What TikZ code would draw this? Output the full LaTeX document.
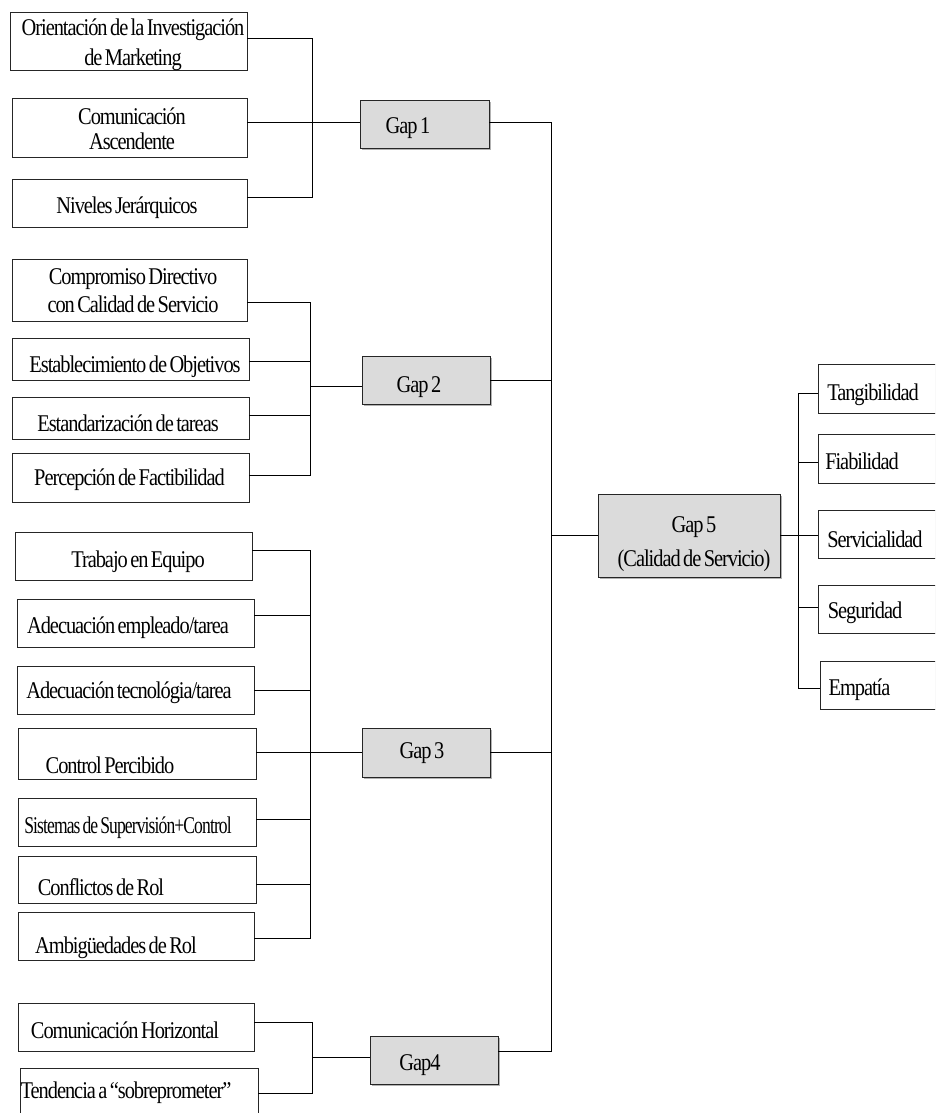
\documentclass[tikz,border=0pt]{standalone}
\usepackage{fontspec}
\setmainfont{Liberation Serif}[FakeStretch=0.85, LetterSpace=-4.3, WordSpace=0.6]
\usetikzlibrary{shadows}

% box from its top-left corner (x1,y1) to its bottom-right corner (x2,y2)
\newcommand\mkbox[6]{\node[#1, minimum width={#5pt-#3pt}, minimum height={#6pt-#4pt}] (#2) at (#3,#4) {};}

\tikzset{
  framebox/.style={draw=black!85, line width=0.8pt, inner sep=0pt, outer sep=0pt, anchor=north west},
  itembox/.style={framebox, fill=white,
    general shadow={fill=black!22, shadow xshift=1.3pt, shadow yshift=-1.3pt}},
  gapbox/.style={framebox, fill=black!14,
    general shadow={fill=black!30, shadow xshift=1.6pt, shadow yshift=-1.6pt}},
  txt/.style={inner sep=0pt, font=\fontsize{24}{26}\selectfont, align=center},
  one/.style={txt, anchor=base},
  wire/.style={draw=black, line width=0.8pt},
}

\begin{document}
\begin{tikzpicture}[x=1pt, y=-1pt]
\path[use as bounding box] (0,0) rectangle (935,1113);
\clip (0,0) rectangle (935,1113);

% ---- Gap 1 factors
\mkbox{itembox}{o1}{10}{12}{247}{70}
\mkbox{itembox}{o2}{12}{98}{247}{157}
\mkbox{itembox}{o3}{12}{179}{247}{227}
\mkbox{gapbox}{g1}{360}{100}{489}{148}

% ---- Gap 2 factors
\mkbox{itembox}{o4}{12}{259}{247}{321}
\mkbox{itembox}{o5}{12}{338}{249}{380}
\mkbox{itembox}{o6}{12}{397}{249}{439}
\mkbox{itembox}{o7}{12}{453}{249}{502}
\mkbox{gapbox}{g2}{362}{356}{490}{404}

% ---- Gap 3 factors
\mkbox{itembox}{t1}{15}{532}{252}{580}
\mkbox{itembox}{t2}{17}{599}{254}{647}
\mkbox{itembox}{t3}{17}{666}{254}{714}
\mkbox{itembox}{t4}{18}{728}{256}{779}
\mkbox{itembox}{t5}{18}{798}{256}{846}
\mkbox{itembox}{t6}{18}{856}{256}{903}
\mkbox{itembox}{t7}{18}{912}{254}{960}
\mkbox{gapbox}{g3}{362}{728}{490}{777}

% ---- Gap 4 factors
\mkbox{itembox}{h1}{18}{1003}{254}{1051}
\mkbox{itembox}{h2}{20}{1068}{258}{1130}
\mkbox{gapbox}{g4}{370}{1036}{498}{1084}

% ---- Gap 5 and its dimensions
\mkbox{gapbox}{g5}{598}{494}{780}{577}
\mkbox{itembox}{r1}{818}{364}{950}{413}
\mkbox{itembox}{r2}{818}{434}{950}{483}
\mkbox{itembox}{r3}{818}{510}{950}{558}
\mkbox{itembox}{r4}{818}{585}{950}{633}
\mkbox{itembox}{r5}{820}{661}{950}{709}

% ---- labels
\node[txt, font=\fontsize{24}{30}\selectfont] (o1t) at (133,45) {Orientación de la Investigación\\de Marketing};
\node[txt, font=\fontsize{24}{25}\selectfont] (o2t) at (132,129) {Comunicación\\Ascendente};
\node[one] (o3t) at (127,213) {Niveles Jerárquicos};
\node[one] (g1t) at (408,133) {Gap 1};

\node[txt, font=\fontsize{24}{28}\selectfont] (o4t) at (133,291) {Compromiso Directivo\\con Calidad de Servicio};
\node[one] (o5t) at (135,372) {Establecimiento de Objetivos};
\node[one] (o6t) at (128,431) {Estandarización de tareas};
\node[one] (o7t) at (129.5,485) {Percepción de Factibilidad};
\node[one] (g2t) at (419,392) {Gap 2};

\node[one] (t1t) at (138,567) {Trabajo en Equipo};
\node[one] (t2t) at (128,633) {Adecuación empleado/tarea};
\node[one] (t3t) at (129,698) {Adecuación tecnológia/tarea};
\node[one] (t4t) at (110,773) {Control Percibido};
\node[one] (t5t) at (128,833) {\scalebox{0.86}[1]{Sistemas de Supervisión+Control}};
\node[one] (t6t) at (101,895) {Conflictos de Rol};
\node[one] (t7t) at (116,953) {Ambigüedades de Rol};
\node[one] (g3t) at (422,758) {Gap 3};

\node[one] (h1t) at (125,1038) {Comunicación Horizontal};
\node[one] (h2t) at (126,1098) {Tendencia a “sobreprometer”};
\node[one] (g4t) at (420,1070) {Gap4};

\node[txt, font=\fontsize{24}{34}\selectfont] (g5t) at (694,544) {Gap 5\\(Calidad de Servicio)};
\node[one] (r1t) at (873,400) {Tangibilidad};
\node[one] (r2t) at (862,469) {Fiabilidad};
\node[one] (r3t) at (875,547) {Servicialidad};
\node[one] (r4t) at (865,618) {Seguridad};
\node[one] (r5t) at (859.5,695) {Empatía};

% ---- bracket joints
\coordinate (a1) at (312,38);   \coordinate (a3) at (312,197);
\coordinate (b1) at (310,302);  \coordinate (b2) at (311,361);
\coordinate (b3) at (311,415);  \coordinate (b4) at (310,475);
\coordinate (bg) at (310,386);
\coordinate (c1) at (310,550);  \coordinate (c2) at (310,615);
\coordinate (c3) at (310,690);  \coordinate (c5) at (310,819);
\coordinate (c6) at (310,884);  \coordinate (c7) at (310,938);
\coordinate (d1) at (312,1022); \coordinate (d2) at (312,1093);
\coordinate (dg) at (312,1057);
\coordinate (s1) at (551,122);  \coordinate (s4) at (551,1051);
\coordinate (e1) at (798,393);  \coordinate (e2) at (798,462);
\coordinate (e4) at (798,607);  \coordinate (e5) at (798,688);

% ---- Gap 1 bracket
\draw[wire] (o1.east |- a1) -- (a1) -- (a3) -- (o3.east |- a3);
\draw[wire] (o2.east |- s1) -- (g1.west |- s1);

% ---- Gap 2 bracket
\draw[wire] (o4.east |- b1) -- (b1) -- (b4) -- (o7.east |- b4);
\draw[wire] (o5.east |- b2) -- (b2);
\draw[wire] (o6.east |- b3) -- (b3);
\draw[wire] (bg) -- (g2.west |- bg);

% ---- Gap 3 bracket
\draw[wire] (t1.east |- c1) -- (c1) -- (c7) -- (t7.east |- c7);
\draw[wire] (t2.east |- c2) -- (c2);
\draw[wire] (t3.east |- c3) -- (c3);
\draw[wire] (t5.east |- c5) -- (c5);
\draw[wire] (t6.east |- c6) -- (c6);
\draw[wire] (t4.east |- g3.west) -- (g3.west);

% ---- Gap 4 bracket
\draw[wire] (h1.east |- d1) -- (d1) -- (d2) -- (h2.east |- d2);
\draw[wire] (dg) -- (g4.west |- dg);

% ---- spine into Gap 5
\draw[wire] (g1.east |- s1) -- (s1) -- (s4) -- (g4.east |- s4);
\draw[wire] (g2.east) -- (g2.east -| s1);
\draw[wire] (g3.east) -- (g3.east -| s1);
\draw[wire] (g5.west -| s1) -- (g5.west);

% ---- Gap 5 dimensions
\draw[wire] (r1.west |- e1) -- (e1) -- (e5) -- (r5.west |- e5);
\draw[wire] (e2) -- (r2.west |- e2);
\draw[wire] (e4) -- (r4.west |- e4);
\draw[wire] (g5.east) -- (r3.west |- g5.east);
\end{tikzpicture}
\end{document}
